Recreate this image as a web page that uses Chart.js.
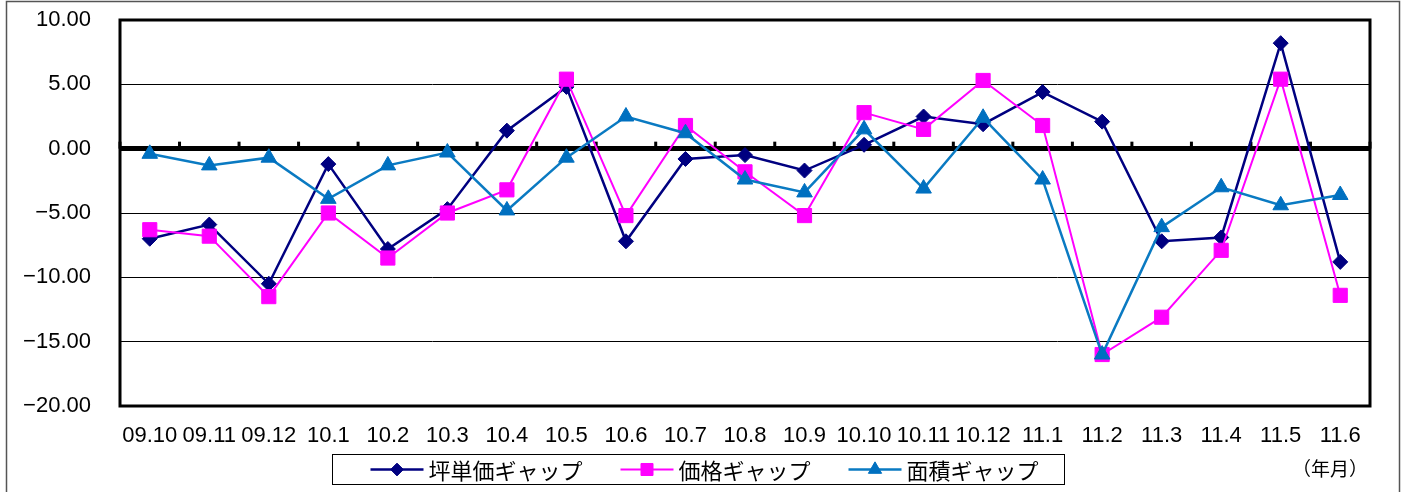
<!DOCTYPE html>
<html lang="ja">
<head>
<meta charset="utf-8">
<title>ギャップ推移</title>
<script src="https://cdn.jsdelivr.net/npm/chart.js@4.4.1/dist/chart.umd.min.js"></script>
<style>
    html, body { margin: 0; padding: 0; background: #fff; }
    #wrap { width: 1406px; height: 492px; }
</style>
</head>
<body>
<div id="wrap"><canvas id="gapChart" width="1406" height="492"></canvas></div>
<script>
// categories (year.month)
const months = ['09.10', '09.11', '09.12', '10.1', '10.2', '10.3', '10.4', '10.5', '10.6', '10.7', '10.8',
    '10.9', '10.10', '10.11', '10.12', '11.1', '11.2', '11.3', '11.4', '11.5', '11.6'];

// series
const tsuboGap = [-7.0, -5.9, -10.5, -1.2, -7.8, -4.7, 1.4, 4.8, -7.2, -0.8, -0.5,
    -1.7, 0.3, 2.5, 1.9, 4.4, 2.1, -7.2, -6.9, 8.2, -8.8];
const priceGap = [-6.3, -6.8, -11.5, -5.0, -8.5, -5.0, -3.2, 5.4, -5.2, 1.8, -1.8,
    -5.2, 2.8, 1.5, 5.3, 1.8, -16.0, -13.1, -7.9, 5.4, -11.4];
const areaGap = [-0.4, -1.3, -0.7, -3.9, -1.3, -0.3, -4.8, -0.7, 2.5, 1.2, -2.4,
    -3.4, 1.5, -3.1, 2.4, -2.4, -16.0, -6.1, -3.0, -4.4, -3.6];

// y axis tick values
const yTicks = [-20, -15, -10, -5, 0, 5, 10];

const seriesLabels = ['坪単価ギャップ', '価格ギャップ', '面積ギャップ'];
const unitLabel = '（年月）';

// outer frame + white background
const frame = {
    id: 'frame',
    beforeDraw(chart) {
        const ctx = chart.ctx;
        ctx.save();
        ctx.fillStyle = '#fff';
        ctx.fillRect(0, 0, chart.width, chart.height);
        ctx.strokeStyle = '#555';
        ctx.lineWidth = 1.5;
        ctx.strokeRect(6.5, 1.5, chart.width - 13, chart.height + 10);
        ctx.restore();
    }
};

// plot border and the little category ticks sitting on the zero line
const plotDecor = {
    id: 'plotDecor',
    beforeDatasetsDraw(chart) {
        const {ctx, chartArea: a, scales: {x, y}} = chart;
        ctx.save();
        ctx.strokeStyle = '#000';
        ctx.lineWidth = 3;
        ctx.strokeRect(a.left, a.top, a.right - a.left, a.bottom - a.top);

        const y0 = y.getPixelForValue(0);
        const step = x.getPixelForValue(1) - x.getPixelForValue(0);
        ctx.fillStyle = '#000';
        for (let i = 0; i <= months.length; i++) {
            const px = x.getPixelForValue(i) - step / 2;
            ctx.fillRect(px - 1.5, y0 - 7, 3, 7);
        }
        ctx.restore();
    }
};

// boxed legend with line + marker samples, like the spreadsheet one
const legendBox = {
    id: 'legendBox',
    afterDraw(chart) {
        const {ctx, chartArea: a} = chart;
        const sampleW = 53, gapText = 5, gapItem = 38, padL = 38, padR = 26;
        ctx.save();
        ctx.font = '22px "Noto Sans CJK JP"';
        const items = chart.data.datasets.map(ds => ({ds, w: ctx.measureText(ds.label).width}));
        const content = items.reduce((s, it) => s + sampleW + gapText + it.w, 0) + gapItem * (items.length - 1);
        const boxW = content + padL + padR;
        const boxL = Math.round(chart.width / 2 - boxW / 2) - 4.5;
        const boxT = Math.round(a.bottom + 48) + 0.5;
        const boxH = 30;
        ctx.strokeStyle = '#000';
        ctx.lineWidth = 1;
        ctx.strokeRect(boxL, boxT, boxW, boxH);

        const cy = boxT + boxH / 2;
        let cx = boxL + padL;
        items.forEach(it => {
            const ds = it.ds;
            ctx.strokeStyle = ds.borderColor;
            ctx.lineWidth = ds.borderWidth;
            ctx.beginPath();
            ctx.moveTo(cx, cy);
            ctx.lineTo(cx + sampleW, cy);
            ctx.stroke();
            ctx.fillStyle = ds.pointBackgroundColor;
            ctx.strokeStyle = ds.pointBorderColor;
            ctx.lineWidth = 1;
            Chart.helpers.drawPoint(ctx, {
                pointStyle: ds.pointStyle,
                radius: ds.pointRadius * 0.85,
                borderWidth: 1,
                rotation: 0
            }, cx + sampleW / 2, cy);
            ctx.fillStyle = '#000';
            ctx.textAlign = 'left';
            ctx.textBaseline = 'middle';
            ctx.fillText(ds.label, cx + sampleW + gapText, cy + 1);
            cx += sampleW + gapText + it.w + gapItem;
        });

        ctx.font = '19px "Noto Sans CJK JP"';
        ctx.textAlign = 'right';
        ctx.fillText(unitLabel, a.right - 2, cy - 1);
        ctx.restore();
    }
};

const ctx = document.getElementById('gapChart').getContext('2d');

new Chart(ctx, {
    type: 'line',
    data: {
        labels: months,
        datasets: [{
            label: seriesLabels[0],
            data: tsuboGap,
            borderColor: '#000080',
            backgroundColor: '#000080',
            pointBackgroundColor: '#000080',
            pointBorderColor: '#000080',
            borderWidth: 2.5,
            pointStyle: 'rectRot',
            pointRadius: 7.5,
            pointBorderWidth: 1,
            order: 3
        }, {
            label: seriesLabels[1],
            data: priceGap,
            borderColor: '#FF00FF',
            backgroundColor: '#FF00FF',
            pointBackgroundColor: '#FF00FF',
            pointBorderColor: '#FF00FF',
            borderWidth: 2,
            pointStyle: 'rect',
            pointRadius: 10,
            pointBorderWidth: 1,
            order: 2
        }, {
            label: seriesLabels[2],
            data: areaGap,
            borderColor: '#0A7AC2',
            backgroundColor: '#0070C0',
            pointBackgroundColor: '#0070C0',
            pointBorderColor: '#0070C0',
            borderWidth: 2.5,
            pointStyle: 'triangle',
            pointRadius: 9,
            pointBorderWidth: 1,
            order: 1
        }]
    },
    options: {
        responsive: false,
        animation: false,
        devicePixelRatio: 1,
        layout: {
            padding: { top: 20, right: 36, left: 0, bottom: 0 }
        },
        elements: {
            line: { tension: 0, fill: false }
        },
        scales: {
            x: {
                offset: true,
                grid: { display: false, drawTicks: false },
                border: { display: false },
                ticks: {
                    autoSkip: false,
                    maxRotation: 0,
                    minRotation: 0,
                    padding: 17,
                    color: '#000',
                    font: { family: 'Liberation Sans', size: 22 }
                },
                afterFit(scale) {
                    scale.height = 86;
                    scale.paddingLeft = 0;
                    scale.paddingRight = 0;
                }
            },
            y: {
                min: -20,
                max: 10,
                afterBuildTicks(scale) {
                    scale.ticks = yTicks.map(v => ({ value: v }));
                },
                grid: {
                    drawTicks: false,
                    color: '#000',
                    lineWidth: function(context) {
                        return context.tick && context.tick.value === 0 ? 5 : 1;
                    }
                },
                border: { display: false },
                ticks: {
                    padding: 29,
                    color: '#000',
                    font: { family: 'Liberation Sans', size: 22 },
                    callback: function(value) {
                        return (value < 0 ? '\u2212' : '') + Math.abs(value).toFixed(2);
                    }
                },
                afterFit(scale) {
                    scale.width = 120;
                    scale.paddingTop = 0;
                    scale.paddingBottom = 0;
                }
            }
        },
        plugins: {
            legend: { display: false },
            tooltip: { enabled: false }
        }
    },
    plugins: [frame, plotDecor, legendBox]
});
</script>
</body>
</html>
